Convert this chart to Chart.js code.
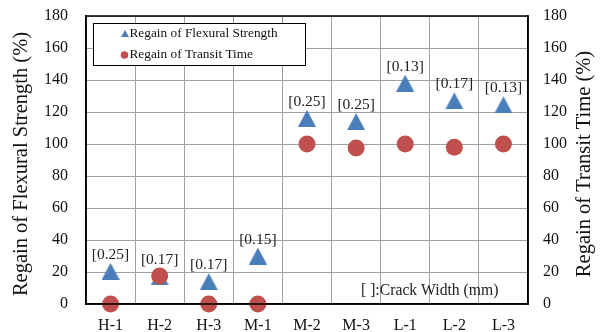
<!DOCTYPE html>
<html>
<head>
<meta charset="utf-8">
<script src="https://cdn.jsdelivr.net/npm/chart.js@4.4.0/dist/chart.umd.min.js"></script>
<style>
  html, body { margin: 0; padding: 0; background: #fff; }
  #wrap { width: 604px; height: 332px; }
</style>
</head>
<body>
<div id="wrap"><canvas id="regainChart" width="604" height="332"></canvas></div>
<script>
// datos
const specimens = ['H-1', 'H-2', 'H-3', 'M-1', 'M-2', 'M-3', 'L-1', 'L-2', 'L-3'];
const flexuralRegain = [20.5, 17, 14, 30, 116, 114, 138, 127, 124.5];
const transitRegain = [0, 17.5, 0, 0, 100, 97.5, 100, 98, 100];
const crackWidths = ['[0.25]', '[0.17]', '[0.17]', '[0.15]', '[0.25]', '[0.25]', '[0.13]', '[0.17]', '[0.13]'];
const yTicks = [0, 20, 40, 60, 80, 100, 120, 140, 160, 180];

const FONT = "'Liberation Serif', 'Times New Roman', serif";
const BLUE = '#4a7ebb';
const RED = '#c0504d';

// marcador triangulo estilo Excel (un poco mas alto que equilatero)
function makeTriangle(w, h, color) {
    const c = document.createElement('canvas');
    c.width = w;
    c.height = h;
    const g = c.getContext('2d');
    g.fillStyle = color;
    g.beginPath();
    g.moveTo(w / 2, 0);
    g.lineTo(w, h);
    g.lineTo(0, h);
    g.closePath();
    g.fill();
    return c;
}
const triMarker = makeTriangle(18, 17, BLUE);
const triLegend = makeTriangle(8, 7, BLUE);

// quitar el relleno automatico de las etiquetas para fijar el area
function noPad(s) {
    s.paddingTop = 0;
    s.paddingBottom = 0;
    s.paddingLeft = 0;
    s.paddingRight = 0;
}

// marco negro alrededor del area del grafico
const framePlugin = {
    id: 'frame',
    afterDraw(chart) {
        const { ctx, chartArea: a } = chart;
        ctx.save();
        ctx.strokeStyle = '#000';
        ctx.lineWidth = 1.5;
        ctx.strokeRect(a.left, a.top, a.right - a.left, a.bottom - a.top);
        ctx.restore();
    }
};

// titulos de los ejes (los dos leen de abajo hacia arriba)
const axisTitlePlugin = {
    id: 'axisTitles',
    afterDraw(chart) {
        const ctx = chart.ctx;
        const midY = (chart.chartArea.top + chart.chartArea.bottom) / 2 + 4;
        ctx.save();
        ctx.fillStyle = '#111';
        ctx.font = '20.5px ' + FONT;
        ctx.textAlign = 'center';
        ctx.textBaseline = 'middle';
        [[22, 'Regain of Flexural Strength (%)'], [585, 'Regain of Transit Time (%)']].forEach(([x, txt]) => {
            ctx.save();
            ctx.translate(x, midY);
            ctx.rotate(-Math.PI / 2);
            ctx.fillText(txt, 0, 0);
            ctx.restore();
        });
        ctx.restore();
    }
};

// etiquetas de ancho de fisura y nota
const labelsPlugin = {
    id: 'crackLabels',
    afterDatasetsDraw(chart) {
        const ctx = chart.ctx;
        const meta = chart.getDatasetMeta(0);
        ctx.save();
        ctx.fillStyle = '#222';
        ctx.font = '15.5px ' + FONT;
        ctx.textAlign = 'center';
        ctx.textBaseline = 'middle';
        meta.data.forEach((pt, i) => {
            ctx.fillText(crackWidths[i], pt.x, pt.y - 16.5);
        });
        ctx.font = '15.7px ' + FONT;
        ctx.textAlign = 'left';
        ctx.fillText('[ ]:Crack Width (mm)', 361, 291);
        ctx.restore();
    }
};

// leyenda dentro del grafico
const legendPlugin = {
    id: 'boxLegend',
    afterDraw(chart) {
        const ctx = chart.ctx;
        ctx.save();
        ctx.fillStyle = '#fff';
        ctx.fillRect(93, 23, 212, 42);
        ctx.strokeStyle = '#000';
        ctx.lineWidth = 1;
        ctx.strokeRect(93.5, 23.5, 212, 42);
        ctx.drawImage(triLegend, 121, 30);
        ctx.fillStyle = RED;
        ctx.beginPath();
        ctx.arc(124.5, 55, 3.8, 0, Math.PI * 2);
        ctx.fill();
        ctx.fillStyle = '#111';
        ctx.font = '13.3px ' + FONT;
        ctx.textAlign = 'left';
        ctx.textBaseline = 'middle';
        ctx.fillText('Regain of Flexural Strength', 129.5, 34);
        ctx.fillText('Regain of Transit Time', 129.5, 55);
        ctx.restore();
    }
};

const ctxRegain = document.getElementById('regainChart');
new Chart(ctxRegain, {
    type: 'line',
    data: {
        labels: specimens,
        datasets: [
            {
                label: 'Regain of Flexural Strength',
                data: flexuralRegain,
                yAxisID: 'y',
                showLine: false,
                pointStyle: triMarker,
                pointRadius: 9,
                pointBackgroundColor: BLUE,
                order: 2,
                clip: false
            },
            {
                label: 'Regain of Transit Time',
                data: transitRegain,
                yAxisID: 'y1',
                showLine: false,
                pointStyle: 'circle',
                pointRadius: 8.5,
                pointBorderWidth: 0,
                pointBackgroundColor: RED,
                pointBorderColor: RED,
                order: 1,
                clip: false
            }
        ]
    },
    options: {
        responsive: false,
        animation: false,
        events: [],
        layout: { padding: { top: 16, left: 0, right: 0, bottom: 0 } },
        plugins: { legend: { display: false }, tooltip: { enabled: false } },
        scales: {
            x: {
                offset: true,
                grid: { offset: true, color: '#a0a0a0', lineWidth: 1, drawTicks: false },
                border: { color: '#000', width: 1.5 },
                ticks: { color: '#111', font: { family: FONT, size: 16 }, padding: 12, maxRotation: 0 },
                afterFit(s) { s.height = 28; noPad(s); }
            },
            y: {
                position: 'left',
                min: 0, max: 180,
                afterBuildTicks(s) { s.ticks = yTicks.map(v => ({ value: v })); },
                grid: { color: '#a0a0a0', lineWidth: 1, drawTicks: false },
                border: { color: '#000', width: 1.5 },
                ticks: { color: '#111', font: { family: FONT, size: 16 }, padding: 18 },
                afterFit(s) { s.width = 86; noPad(s); }
            },
            y1: {
                position: 'right',
                min: 0, max: 180,
                afterBuildTicks(s) { s.ticks = yTicks.map(v => ({ value: v })); },
                grid: { display: false, drawTicks: false },
                border: { color: '#000', width: 1.5 },
                ticks: { color: '#111', font: { family: FONT, size: 16 }, padding: 15 },
                afterFit(s) { s.width = 76; noPad(s); }
            }
        }
    },
    plugins: [framePlugin, labelsPlugin, legendPlugin, axisTitlePlugin]
});
</script>
</body>
</html>
